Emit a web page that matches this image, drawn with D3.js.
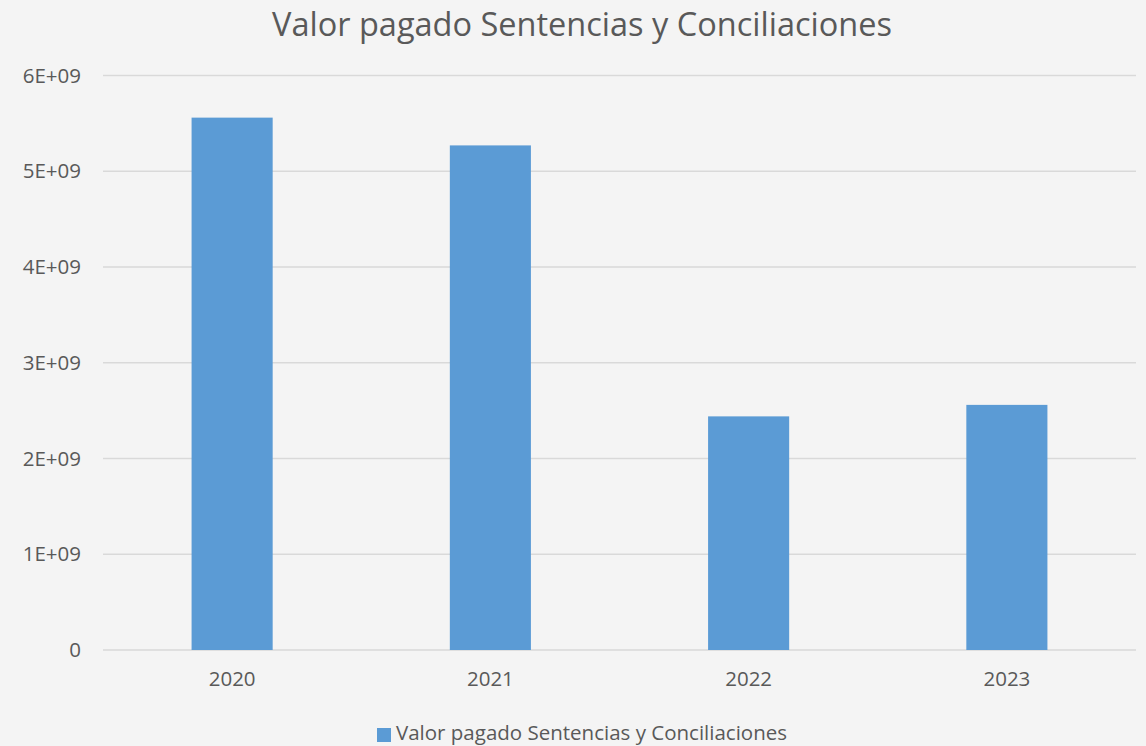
<!DOCTYPE html>
<html>
<head>
<meta charset="utf-8">
<script src="https://cdn.jsdelivr.net/npm/d3@7"></script>
<style>
  body { margin: 0; background: #f4f4f4; }
  text { font-family: "Open Sans", "Noto Sans", sans-serif; fill: #595959; }
</style>
</head>
<body>
<svg id="chart"></svg>
<script>
var years = ["2020", "2021", "2022", "2023"];
var values = [5.56e9, 5.27e9, 2.44e9, 2.56e9];
var yTicks = [0, 1e9, 2e9, 3e9, 4e9, 5e9, 6e9];
var yTickLabels = ["0", "1E+09", "2E+09", "3E+09", "4E+09", "5E+09", "6E+09"];
var seriesName = "Valor pagado Sentencias y Conciliaciones";
var title = "Valor pagado Sentencias y Conciliaciones";

var full_width = 1146, full_height = 746;
var margin = {top: 75.5, right: 10, bottom: 96, left: 103},
    width = full_width - margin.left - margin.right,
    height = full_height - margin.top - margin.bottom;

var svg = d3.select("#chart")
    .attr("width", full_width)
    .attr("height", full_height);

svg.append("rect")
  .attr("width", full_width)
  .attr("height", full_height)
  .attr("fill", "#f4f4f4");

var g = svg.append("g").attr("transform", "translate(" + margin.left + "," + margin.top + ")");

var x = d3.scaleBand()
  .domain(years)
  .range([0, width])
  .paddingInner(0.686)
  .paddingOuter(0.343);

var y = d3.scaleLinear()
  .domain([0, 6e9])
  .range([height, 0]);

// gridlines
g.selectAll(".grid")
  .data(yTicks)
  .enter().append("line")
  .attr("class", "grid")
  .attr("x1", 0)
  .attr("x2", width)
  .attr("y1", function(d) { return y(d); })
  .attr("y2", function(d) { return y(d); })
  .attr("stroke", "#d9d9d9")
  .attr("stroke-width", 1.5);

// y axis labels
var y_axis = g.append("g")
  .call(d3.axisLeft(y).tickValues(yTicks)
    .tickFormat(function(d, i) { return yTickLabels[i]; })
    .tickSize(0).tickPadding(22));
y_axis.select(".domain").remove();
y_axis.selectAll("text").style("font-size", "20.5px").attr("fill", "#595959");

// bars
g.selectAll(".bar")
  .data(values)
  .enter().append("rect")
  .attr("class", "bar")
  .attr("x", function(d, i) { return x(years[i]); })
  .attr("width", x.bandwidth())
  .attr("y", function(d) { return y(d); })
  .attr("height", function(d) { return height - y(d); })
  .attr("fill", "#5b9bd5");

// x axis
var x_axis = g.append("g")
  .attr("transform", "translate(0," + height + ")")
  .call(d3.axisBottom(x).tickSize(0).tickPadding(21));
x_axis.select(".domain").remove();
x_axis.selectAll("text").style("font-size", "20.5px").attr("fill", "#595959");

// title
svg.append("text")
  .attr("x", 582)
  .attr("y", 36)
  .attr("text-anchor", "middle")
  .style("font-size", "32.5px")
  .text(title);

// legend
var legend = svg.append("g").attr("transform", "translate(377,733)");
legend.append("rect")
  .attr("x", 0).attr("y", -5)
  .attr("width", 14).attr("height", 14)
  .attr("fill", "#5b9bd5");
legend.append("text")
  .attr("x", 19)
  .attr("y", 7)
  .style("font-size", "20.5px")
  .text(seriesName);
</script>
</body>
</html>
